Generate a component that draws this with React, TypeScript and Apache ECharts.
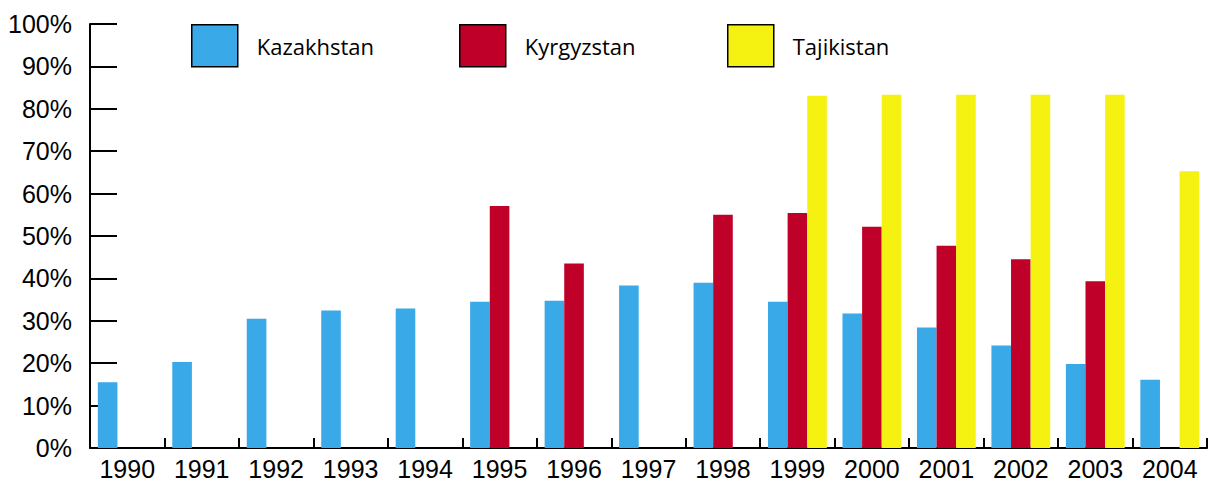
import React, { useEffect, useRef } from "react";
import * as echarts from "echarts";

const years = ["1990", "1991", "1992", "1993", "1994", "1995", "1996", "1997", "1998", "1999", "2000", "2001", "2002", "2003", "2004"];
const kazakhstan = [15.5, 20.3, 30.5, 32.4, 32.9, 34.5, 34.7, 38.3, 39.0, 34.5, 31.7, 28.4, 24.2, 19.8, 16.1];
const kyrgyzstan = [null, null, null, null, null, 57.1, 43.5, null, 55.0, 55.4, 52.2, 47.7, 44.5, 39.3, null];
const tajikistan = [null, null, null, null, null, null, null, null, null, 83.1, 83.3, 83.3, 83.3, 83.3, 65.3];
const seriesNames = ["Kazakhstan", "Kyrgyzstan", "Tajikistan"];
const colors = ["#39A9E8", "#BF0029", "#F5F212"];

export default function App() {
  const ref = useRef<HTMLDivElement>(null);
  useEffect(() => {
    if (!ref.current) return;
    const chart = echarts.init(ref.current, undefined, { renderer: "svg" });
    const legendLefts = [191, 459, 727];
    const data = [kazakhstan, kyrgyzstan, tajikistan];
    chart.setOption({
      animation: false,
      backgroundColor: "#ffffff",
      grid: { left: 90, top: 24, width: 1117, height: 424 },
      legend: seriesNames.map((n, i) => ({
        data: [n],
        left: legendLefts[i],
        top: 24,
        padding: 0,
        itemWidth: 46,
        itemHeight: 42,
        icon: "rect",
        itemStyle: { borderColor: "#000", borderWidth: 1.5 },
        textStyle: { fontFamily: "Open Sans", fontSize: 22, color: "#000", padding: [0, 0, 0, 14] },
        selectedMode: false,
      })),
      xAxis: {
        type: "category",
        data: years,
        axisLine: { show: true, lineStyle: { color: "#000", width: 2 } },
        axisTick: { show: true, inside: true, length: 10, lineStyle: { color: "#000", width: 2 } },
        axisLabel: { fontFamily: "Liberation Sans", fontSize: 25, color: "#000", margin: 8 },
        splitLine: { show: false },
      },
      yAxis: {
        type: "value",
        min: 0,
        max: 100,
        interval: 10,
        axisLine: { show: true, lineStyle: { color: "#000", width: 2 } },
        axisTick: { show: true, inside: true, length: 27, lineStyle: { color: "#000", width: 2 } },
        axisLabel: { fontFamily: "Liberation Sans", fontSize: 25, color: "#000", margin: 18, formatter: "{value}%" },
        splitLine: { show: false },
      },
      series: seriesNames.map((n, i) => ({
        name: n,
        type: "bar",
        data: data[i],
        barGap: "0%",
        barCategoryGap: "21%",
        itemStyle: { color: colors[i] },
      })),
    });
    return () => chart.dispose();
  }, []);
  return <div ref={ref} style={{ position: "fixed", left: 0, top: 0, width: 1212, height: 486 }} />;
}
